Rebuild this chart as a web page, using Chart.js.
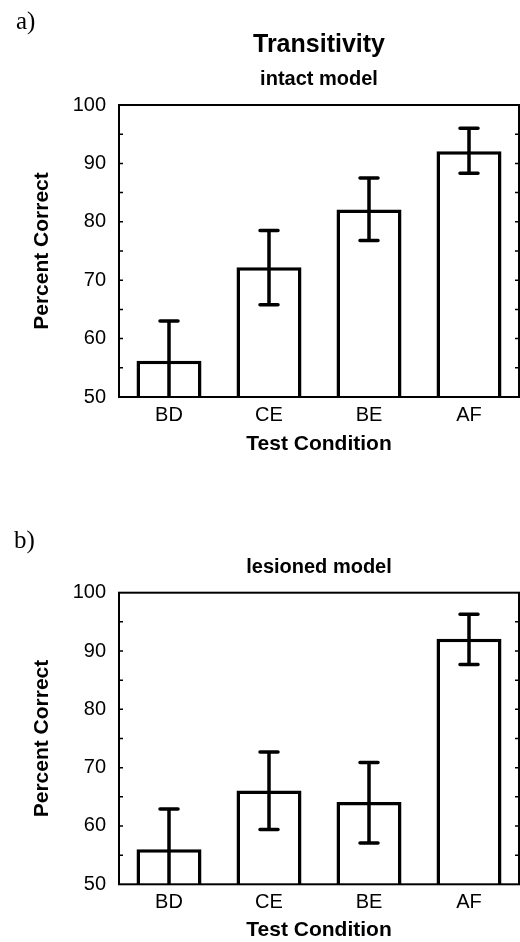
<!DOCTYPE html>
<html lang="en">
<head>
<meta charset="UTF-8">
<title>Transitivity</title>
<script src="https://cdn.jsdelivr.net/npm/chart.js"></script>
<style>
  body { margin: 0; background: #fff; width: 520px; height: 942px; position: relative; overflow: hidden; }
  .panel { position: absolute; left: 0; width: 520px; }
  #panelA { top: 0; height: 470px; }
  #panelB { top: 460px; height: 482px; }
  .tag { position: absolute; font-family: "Liberation Serif", "Times New Roman", serif; font-size: 25px; line-height: 1; color: #000; }
</style>
</head>
<body>
<div class="panel" id="panelA"><canvas id="chartA"></canvas></div>
<div class="panel" id="panelB"><canvas id="chartB"></canvas></div>
<div class="tag" style="left:16px; top:8px;">a)</div>
<div class="tag" style="left:14px; top:527px;">b)</div>
<script>
const categories = ['BD', 'CE', 'BE', 'AF'];

// a) intact model
const intactMeans = [56.2, 72.2, 82.1, 92.1];
const intactHigh = [63.0, 78.5, 87.5, 96.0];
const intactLow = [49.4, 65.8, 76.8, 88.3];

// b) lesioned model
const lesionedMeans = [56.0, 66.1, 64.1, 92.1];
const lesionedHigh = [62.9, 72.7, 70.9, 96.3];
const lesionedLow = [49.1, 59.4, 57.1, 87.7];

const yMin = 50;
const yMax = 100;
const tickMarks = [55, 60, 65, 70, 75, 80, 85, 90, 95];

const FONT = '"Liberation Sans", Arial, Helvetica, sans-serif';

// error bars, clipped to the plot area
const errorBars = {
    id: 'errorBars',
    afterDatasetsDraw(chart, args, opts) {
        const { ctx, chartArea: a, scales: { x, y } } = chart;
        ctx.save();
        ctx.beginPath();
        ctx.rect(a.left, a.top, a.right - a.left, a.bottom - a.top);
        ctx.clip();
        ctx.strokeStyle = '#000';
        ctx.lineWidth = 3.5;
        ctx.lineCap = 'round';
        opts.high.forEach((hi, i) => {
            const cx = x.getPixelForValue(i);
            const yh = y.getPixelForValue(hi);
            const yl = y.getPixelForValue(opts.low[i]);
            ctx.beginPath();
            ctx.moveTo(cx, yl); ctx.lineTo(cx, yh);
            ctx.moveTo(cx - 9, yh); ctx.lineTo(cx + 9, yh);
            ctx.moveTo(cx - 9, yl); ctx.lineTo(cx + 9, yl);
            ctx.stroke();
        });
        ctx.restore();
    }
};

// box round the plot with small inward ticks on both sides
const frame = {
    id: 'frame',
    afterDraw(chart) {
        const { ctx, chartArea: a, scales: { y } } = chart;
        ctx.save();
        ctx.strokeStyle = '#000';
        ctx.lineWidth = 2;
        ctx.strokeRect(a.left, a.top, a.right - a.left, a.bottom - a.top);
        ctx.lineWidth = 1.5;
        ctx.beginPath();
        tickMarks.forEach(v => {
            const py = y.getPixelForValue(v);
            ctx.moveTo(a.left, py); ctx.lineTo(a.left + 4, py);
            ctx.moveTo(a.right, py); ctx.lineTo(a.right - 4, py);
        });
        ctx.stroke();
        ctx.restore();
    }
};

function makeChart(id, means, high, low, title, subtitle, subPad, xHeight, xTitlePad) {
    return new Chart(document.getElementById(id), {
        type: 'bar',
        data: {
            labels: categories,
            datasets: [{
                data: means,
                backgroundColor: '#fff',
                borderColor: '#000',
                borderWidth: 3.5,
                barPercentage: 0.65,
                categoryPercentage: 1.0
            }]
        },
        options: {
            responsive: true,
            maintainAspectRatio: false,
            animation: false,
            layout: { padding: { left: 0, right: 1, top: 0, bottom: 0 } },
            plugins: {
                legend: { display: false },
                tooltip: { enabled: false },
                title: {
                    display: !!title,
                    text: title,
                    fullSize: false,
                    color: '#000',
                    font: { family: FONT, size: 25, weight: 'bold' },
                    padding: { top: 30, bottom: 0 }
                },
                subtitle: {
                    display: true,
                    text: subtitle,
                    fullSize: false,
                    color: '#000',
                    font: { family: FONT, size: 20, weight: 'bold' },
                    padding: subPad
                },
                errorBars: { high: high, low: low }
            },
            scales: {
                x: {
                    grid: { display: false, drawTicks: false },
                    border: { display: false },
                    ticks: { color: '#000', padding: 6, font: { family: FONT, size: 20 } },
                    title: {
                        display: true,
                        text: 'Test Condition',
                        color: '#000',
                        font: { family: FONT, size: 21, weight: 'bold', lineHeight: 1 },
                        padding: { top: 0, bottom: xTitlePad }
                    },
                    afterFit(s) { s.height = xHeight; }
                },
                y: {
                    min: yMin,
                    max: yMax,
                    grid: { display: false, drawTicks: false },
                    border: { display: false },
                    ticks: { stepSize: 10, color: '#000', padding: 13, font: { family: FONT, size: 20 } },
                    title: {
                        display: true,
                        text: 'Percent Correct',
                        color: '#000',
                        font: { family: FONT, size: 21, weight: 'bold', lineHeight: 1 },
                        padding: { top: 32, bottom: 0 }
                    },
                    afterFit(s) { s.width = 119; }
                }
            }
        },
        plugins: [errorBars, frame]
    });
}

makeChart('chartA', intactMeans, intactHigh, intactLow, 'Transitivity', 'intact model',
    { top: 7.5, bottom: 13.5 }, 73, 15);
makeChart('chartB', lesionedMeans, lesionedHigh, lesionedLow, '', 'lesioned model',
    { top: 95, bottom: 13.7 }, 57.7, 1);
</script>
</body>
</html>
